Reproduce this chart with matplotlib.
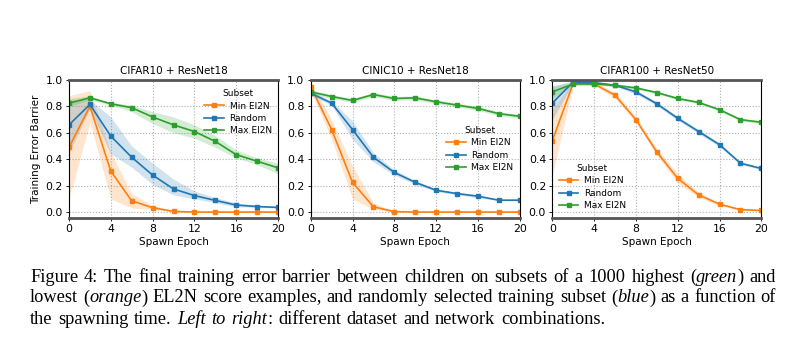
import matplotlib
matplotlib.use("Agg")
import matplotlib.pyplot as plt
import numpy as np

epochs = [0, 2, 4, 6, 8, 10, 12, 14, 16, 18, 20]
titles = ["CIFAR10 + ResNet18", "CINIC10 + ResNet18", "CIFAR100 + ResNet50"]
labels = ["Min El2N", "Random", "Max El2N"]
colors = ["#ff7f0e", "#1f77b4", "#2ca02c"]

# Panel 1: CIFAR10 + ResNet18
p1_min = [0.49, 0.80, 0.31, 0.085, 0.033, 0.005, 0.0, 0.0, 0.0, 0.0, 0.0]
p1_min_lo = [0.10, 0.68, 0.10, 0.03, 0.02, 0.0, 0.0, 0.0, 0.0, 0.0, 0.0]
p1_min_hi = [0.88, 0.92, 0.45, 0.14, 0.05, 0.01, 0.0, 0.0, 0.0, 0.0, 0.0]
p1_rnd = [0.66, 0.815, 0.575, 0.415, 0.28, 0.175, 0.125, 0.088, 0.053, 0.042, 0.035]
p1_rnd_lo = [0.45, 0.78, 0.44, 0.34, 0.21, 0.13, 0.10, 0.07, 0.04, 0.035, 0.03]
p1_rnd_hi = [0.85, 0.85, 0.72, 0.50, 0.37, 0.25, 0.16, 0.11, 0.07, 0.05, 0.04]
p1_max = [0.825, 0.865, 0.82, 0.79, 0.72, 0.66, 0.61, 0.535, 0.435, 0.385, 0.335]
p1_max_lo = [0.80, 0.85, 0.81, 0.76, 0.67, 0.60, 0.56, 0.49, 0.41, 0.36, 0.29]
p1_max_hi = [0.86, 0.88, 0.83, 0.81, 0.76, 0.72, 0.66, 0.58, 0.47, 0.41, 0.37]

# Panel 2: CINIC10 + ResNet18
p2_min = [0.95, 0.625, 0.225, 0.04, 0.003, 0.0, 0.0, 0.0, 0.0, 0.0, 0.0]
p2_min_lo = [0.92, 0.55, 0.10, 0.02, 0.0, 0.0, 0.0, 0.0, 0.0, 0.0, 0.0]
p2_min_hi = [0.98, 0.70, 0.35, 0.07, 0.006, 0.0, 0.0, 0.0, 0.0, 0.0, 0.0]
p2_rnd = [0.90, 0.825, 0.625, 0.415, 0.30, 0.225, 0.165, 0.14, 0.12, 0.09, 0.09]
p2_rnd_lo = [0.88, 0.81, 0.55, 0.38, 0.28, 0.21, 0.155, 0.13, 0.11, 0.085, 0.085]
p2_rnd_hi = [0.92, 0.84, 0.69, 0.45, 0.32, 0.24, 0.175, 0.15, 0.13, 0.095, 0.095]
p2_max = [0.91, 0.875, 0.845, 0.89, 0.86, 0.865, 0.835, 0.81, 0.785, 0.745, 0.725]
p2_max_lo = [0.895, 0.86, 0.83, 0.875, 0.845, 0.85, 0.82, 0.795, 0.77, 0.73, 0.71]
p2_max_hi = [0.925, 0.89, 0.86, 0.905, 0.875, 0.88, 0.85, 0.825, 0.80, 0.76, 0.74]

# Panel 3: CIFAR100 + ResNet50
p3_min = [0.54, 0.975, 0.97, 0.885, 0.70, 0.455, 0.255, 0.13, 0.06, 0.018, 0.012]
p3_min_lo = [0.28, 0.96, 0.96, 0.86, 0.68, 0.43, 0.22, 0.11, 0.05, 0.012, 0.008]
p3_min_hi = [0.78, 0.99, 0.98, 0.91, 0.72, 0.48, 0.29, 0.15, 0.07, 0.024, 0.016]
p3_rnd = [0.825, 0.985, 0.98, 0.96, 0.91, 0.82, 0.71, 0.61, 0.51, 0.37, 0.33]
p3_rnd_lo = [0.70, 0.975, 0.97, 0.95, 0.895, 0.805, 0.695, 0.595, 0.495, 0.36, 0.32]
p3_rnd_hi = [0.95, 0.995, 0.99, 0.97, 0.925, 0.835, 0.725, 0.625, 0.525, 0.38, 0.34]
p3_max = [0.91, 0.97, 0.97, 0.96, 0.94, 0.905, 0.86, 0.83, 0.775, 0.70, 0.68]
p3_max_lo = [0.86, 0.96, 0.96, 0.95, 0.93, 0.895, 0.85, 0.82, 0.765, 0.69, 0.67]
p3_max_hi = [0.96, 0.98, 0.98, 0.97, 0.95, 0.915, 0.87, 0.84, 0.785, 0.71, 0.69]

panels = [
    [(p1_min, p1_min_lo, p1_min_hi), (p1_rnd, p1_rnd_lo, p1_rnd_hi), (p1_max, p1_max_lo, p1_max_hi)],
    [(p2_min, p2_min_lo, p2_min_hi), (p2_rnd, p2_rnd_lo, p2_rnd_hi), (p2_max, p2_max_lo, p2_max_hi)],
    [(p3_min, p3_min_lo, p3_min_hi), (p3_rnd, p3_rnd_lo, p3_rnd_hi), (p3_max, p3_max_lo, p3_max_hi)],
]

# Caption lines; _word_ marks italic segments
caption_lines = [
    "Figure 4: The final training error barrier between children on subsets of a 1000 highest (_green_) and",
    "lowest (_orange_) EL2N score examples, and randomly selected training subset (_blue_) as a function of",
    "the spawning time. _Left_ _to_ _right_: different dataset and network combinations.",
]

W, H = 809, 361
fig = plt.figure(figsize=(W / 100, H / 100), dpi=100)
lefts = [69, 310.7, 552.3]
ax_w = 209
ax_top, ax_bot = 80, 218

legend_specs = [
    dict(loc="upper right", bbox_to_anchor=(1.0, 0.98)),
    dict(loc="center right", bbox_to_anchor=(1.0, 0.50)),
    dict(loc="lower left", bbox_to_anchor=(0.0, 0.01)),
]

for i, (ax_left, data) in enumerate(zip(lefts, panels)):
    ax = fig.add_axes([ax_left / W, 1 - ax_bot / H, ax_w / W, (ax_bot - ax_top) / H])
    for (m, lo, hi), c, lab in zip(data, colors, labels):
        ax.fill_between(epochs, lo, hi, color=c, alpha=0.2, linewidth=0)
        ax.plot(epochs, m, color=c, marker="s", markersize=2.2, linewidth=1.2, label=lab)
    ax.set_xlim(0, 20)
    ax.set_ylim(-0.045, 1.0)
    ax.set_xticks([0, 4, 8, 12, 16, 20])
    ax.set_yticks([0.0, 0.2, 0.4, 0.6, 0.8, 1.0])
    ax.set_yticklabels(["0.0", "0.2", "0.4", "0.6", "0.8", "1.0"])
    ax.tick_params(labelsize=7.8, length=2.5, width=0.6, pad=2)
    ax.grid(True, linestyle=":", color="#b0b0b0", linewidth=0.8)
    ax.set_axisbelow(True)
    for s in ["left", "right"]:
        ax.spines[s].set_linewidth(0.8)
        ax.spines[s].set_color("black")
    for s in ["top", "bottom"]:
        ax.spines[s].set_linewidth(2.0)
        ax.spines[s].set_color("#555555")
    ax.set_title(titles[i], fontsize=7.5, pad=4)
    ax.set_xlabel("Spawn Epoch", fontsize=7.5, labelpad=2)
    if i == 0:
        ax.set_ylabel("Training Error Barrier", fontsize=7.5, labelpad=3)
    ax.legend(title="Subset", fontsize=6.5, title_fontsize=6.5, frameon=False,
              handlelength=2.2, labelspacing=0.38, borderpad=0.2, handletextpad=0.6,
              **legend_specs[i])


def parse_word(word):
    segs = []
    parts = word.split("_")
    for k, p in enumerate(parts):
        if p:
            segs.append((p, k % 2 == 1))
    return segs


renderer = fig.canvas.get_renderer()
cap_size = 13.2
x_start = 30
right_ends = [776, 776, 605]
ys = [277, 298, 319]
for line, y, xr in zip(caption_lines, ys, right_ends):
    words = [parse_word(w) for w in line.split(" ")]
    word_artists = []
    total = 0.0
    for segs in words:
        arts = []
        wsum = 0.0
        for txt, it in segs:
            t = fig.text(0, 1 - y / H, txt, family="Liberation Serif",
                         style="italic" if it else "normal", fontsize=cap_size,
                         ha="left", va="center")
            w = t.get_window_extent(renderer).width
            arts.append((t, w))
            wsum += w
        word_artists.append((arts, wsum))
        total += wsum
    gap = (xr - x_start - total) / max(len(words) - 1, 1)
    x = x_start
    for arts, wsum in word_artists:
        xx = x
        for t, w in arts:
            t.set_x(xx / W)
            xx += w
        x += wsum + gap

fig.savefig("out.png", dpi=100)
